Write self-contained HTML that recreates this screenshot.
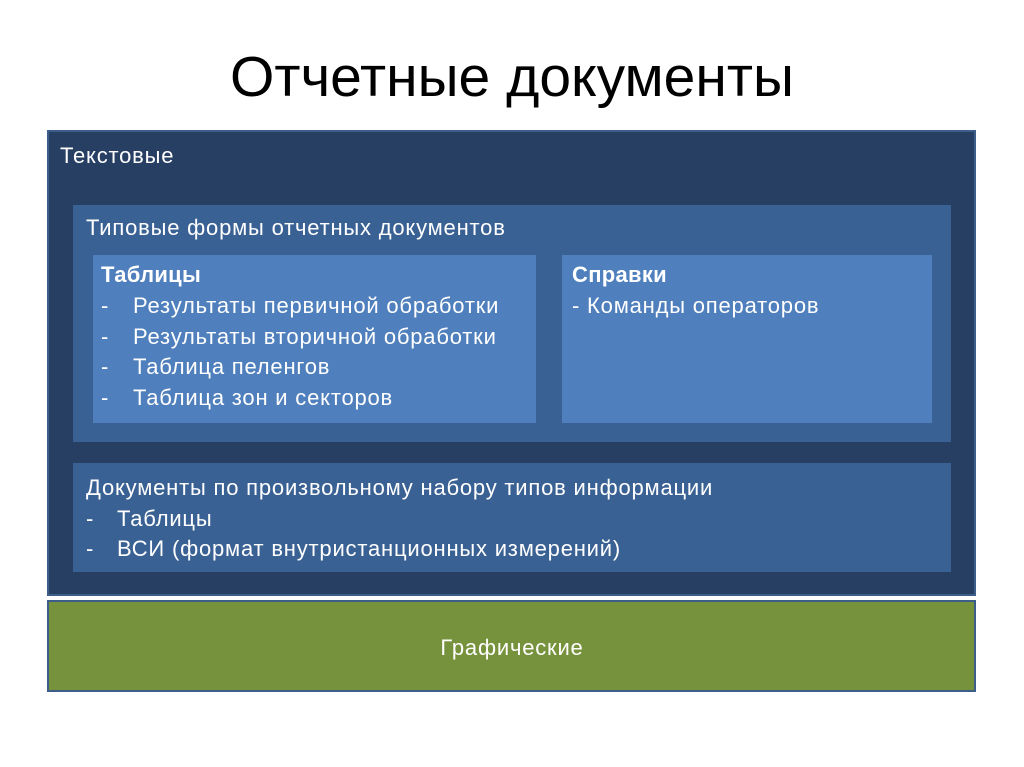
<!DOCTYPE html>
<html><head><meta charset="utf-8"><style>
*{margin:0;padding:0;box-sizing:border-box}
body{width:1024px;height:767px;background:#fff;position:relative;overflow:hidden;font-family:"Liberation Sans","Noto Sans CJK SC",sans-serif;color:#fff}
.a{position:absolute}
.t{position:absolute;white-space:nowrap;letter-spacing:0.8px}
.d{display:inline-block;width:32px}
.d2{display:inline-block;width:31px}
</style></head><body>
<div class="t" style="left:0;width:1024px;top:44px;text-align:center;font-size:57px;color:#000;letter-spacing:0">Отчетные документы</div>
<div class="a" style="left:47px;top:130px;width:929px;height:466px;background:#263f63;border:2px solid #3d5e88"></div>
<div class="t" style="left:60px;top:143px;font-size:22px">Текстовые</div>
<div class="a" style="left:73px;top:205px;width:878px;height:237px;background:#3a6194"></div>
<div class="t" style="left:86px;top:215px;font-size:22px">Типовые формы отчетных документов</div>
<div class="a" style="left:93px;top:255px;width:443px;height:168px;background:#4f7fbc"></div>
<div class="t" style="left:101px;top:262px;font-size:22px;font-weight:bold;letter-spacing:0.3px">Таблицы</div>
<div class="t" style="left:101px;top:291px;font-size:22px;line-height:30.5px"><span class="d">-</span>Результаты первичной обработки<br><span class="d">-</span>Результаты вторичной обработки<br><span class="d">-</span>Таблица пеленгов<br><span class="d">-</span>Таблица зон и секторов</div>
<div class="a" style="left:562px;top:255px;width:370px;height:168px;background:#4f7fbc"></div>
<div class="t" style="left:572px;top:262px;font-size:22px;font-weight:bold;letter-spacing:0.3px">Справки</div>
<div class="t" style="left:572px;top:293px;font-size:22px">- Команды операторов</div>
<div class="a" style="left:73px;top:463px;width:878px;height:109px;background:#3a6194"></div>
<div class="t" style="left:86px;top:473px;font-size:22px;line-height:30.5px">Документы по произвольному набору типов информации<br><span class="d2">-</span>Таблицы<br><span class="d2">-</span>ВСИ (формат внутристанционных измерений)</div>
<div class="a" style="left:47px;top:600px;width:929px;height:92px;background:#77923c;border:2px solid #3d5e88"></div>
<div class="t" style="left:0;width:1024px;top:635px;text-align:center;font-size:22px">Графические</div>
</body></html>
